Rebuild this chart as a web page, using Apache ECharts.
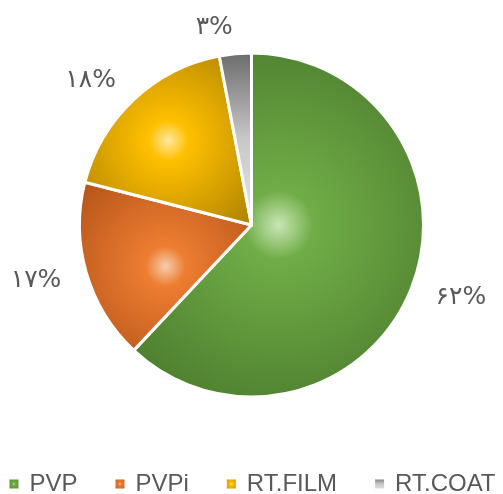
<!DOCTYPE html>
<html>
<head>
<meta charset="utf-8">
<script src="https://cdn.jsdelivr.net/npm/echarts@6/dist/echarts.min.js"></script>
<style>
  html, body { margin: 0; padding: 0; background: #fff; }
  #main { width: 503px; height: 494px; }
</style>
</head>
<body>
<div id="main"></div>
<script>
// data
var categories = ['PVP', 'PVPi', 'RT.FILM', 'RT.COAT'];
var values = [62, 17, 18, 3];
// colours: light centre, base, dark edge
var lightColors = ['#c9e6b6', '#f8ccac', '#ffe7a0', '#e6e6e6'];
var baseColors = ['#70ad47', '#ed7d31', '#ffc000', '#c8c8c8'];
var darkColors = ['#4f8030', '#b8561b', '#b38600', '#6a6a6a'];

var persianDigits = ['۰', '۱', '۲', '۳', '۴', '۵', '۶', '۷', '۸', '۹'];
function toPersian(n) {
    return String(n).replace(/[0-9]/g, function (d) { return persianDigits[+d]; });
}

function sliceColor(i) {
    if (i == 3) {
        // thin grey wedge: dark at the rim, light toward the centre
        return {
            type: 'linear', x: 0, y: 0, x2: 0, y2: 1,
            colorStops: [
                { offset: 0, color: darkColors[i] },
                { offset: 0.5, color: baseColors[i] },
                { offset: 1, color: lightColors[i] }
            ]
        };
    }
    return {
        type: 'radial', x: 0.5, y: 0.5, r: 0.65,
        colorStops: [
            { offset: 0, color: lightColors[i] },
            { offset: 0.18, color: baseColors[i] },
            { offset: 1, color: darkColors[i] }
        ]
    };
}

var pieData = [];
for (let i = 0; i < categories.length; i++) {
    pieData.push({
        name: categories[i],
        value: values[i],
        itemStyle: { color: sliceColor(i) }
    });
}

var myChart = echarts.init(document.getElementById('main'));

var option = {
    animation: false,
    legend: {
        data: categories,
        left: 'center',
        top: 467,
        icon: 'rect',
        itemWidth: 11,
        itemHeight: 11,
        itemGap: 36,
        textStyle: {
            fontFamily: 'Liberation Sans',
            fontSize: 24,
            color: '#595959',
            padding: [0, 0, 0, 5]
        }
    },
    series: [
        {
            type: 'pie',
            center: ['50%', 225],
            radius: 172,
            startAngle: 90,
            clockwise: true,
            avoidLabelOverlap: false,
            itemStyle: {
                borderColor: '#ffffff',
                borderWidth: 3
            },
            label: {
                position: 'outside',
                fontFamily: 'DejaVu Sans',
                fontSize: 25,
                color: '#595959',
                distanceToLabelLine: 0,
                formatter: function (params) {
                    return toPersian(params.value) + '%';
                }
            },
            labelLine: {
                show: false,
                length: 26,
                length2: 0
            },
            data: pieData
        }
    ]
};

myChart.setOption(option);
</script>
</body>
</html>
